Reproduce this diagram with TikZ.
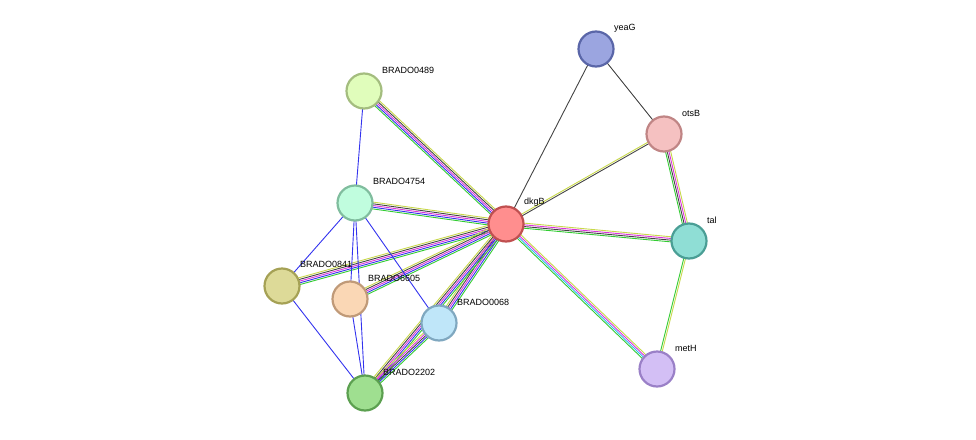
\documentclass[tikz,border=0pt]{standalone}
\usepackage{fontspec}
\setmainfont{Liberation Sans}
\usetikzlibrary{calc,backgrounds}
\definecolor{egr}{HTML}{33CC33}\definecolor{ebl}{HTML}{3333EE}\definecolor{emg}{HTML}{DD33DD}
\definecolor{edk}{HTML}{444444}\definecolor{eyl}{HTML}{C8D84A}\definecolor{ecy}{HTML}{33BBEE}
\definecolor{f1}{HTML}{FF8E8E}\definecolor{d1}{HTML}{C05050}
\definecolor{f2}{HTML}{9BA5E0}\definecolor{d2}{HTML}{5A66A8}
\definecolor{f3}{HTML}{F5C1C1}\definecolor{d3}{HTML}{C08585}
\definecolor{f4}{HTML}{8FDED5}\definecolor{d4}{HTML}{4A9E95}
\definecolor{f5}{HTML}{D3BFF5}\definecolor{d5}{HTML}{9A80C7}
\definecolor{f6}{HTML}{E0FDBB}\definecolor{d6}{HTML}{A4BD7F}
\definecolor{f7}{HTML}{C0FDDE}\definecolor{d7}{HTML}{80BD9E}
\definecolor{f8}{HTML}{DDDA98}\definecolor{d8}{HTML}{A5A155}
\definecolor{f9}{HTML}{FAD7B5}\definecolor{d9}{HTML}{C09A78}
\definecolor{f10}{HTML}{BFE6F9}\definecolor{d10}{HTML}{80A8C0}
\definecolor{f11}{HTML}{9FDF90}\definecolor{d11}{HTML}{5CA050}
\newcommand{\mline}[3]{%
 \foreach \c [count=\i] in {#3}{\xdef\nn{\i}}%
 \foreach \c [count=\i] in {#3}{%
  \pgfmathsetmacro{\off}{(\i-(\nn+1)/2)*1.7}%
  \draw[draw=\c,line width=0.9pt] ($(#1)!\off pt!90:(#2)$) -- ($(#2)!\off pt!-90:(#1)$);}}
\tikzset{prot/.style 2 args={circle,minimum size=35pt,inner sep=0pt,fill=#1,draw=#2,line width=2.2pt},
 lab/.style={anchor=west,font=\fontsize{9}{10}\selectfont,inner sep=0pt}}
\begin{document}
\begin{tikzpicture}[x=1pt,y=-1pt]
\useasboundingbox (0,0) rectangle (976,439);
\node[prot={f2}{d2}] (yeaG) at (596,49) {};
\node[prot={f3}{d3}] (otsB) at (664,134) {};
\node[prot={f1}{d1}] (dkgB) at (506,224) {};
\node[prot={f4}{d4}] (tal) at (689,241) {};
\node[prot={f5}{d5}] (metH) at (657,369) {};
\node[prot={f6}{d6}] (b0489) at (364,91) {};
\node[prot={f7}{d7}] (b4754) at (355,203) {};
\node[prot={f8}{d8}] (b0841) at (282,286) {};
\node[prot={f9}{d9}] (b6605) at (350,299) {};
\node[prot={f10}{d10}] (b0068) at (439,323) {};
\node[prot={f11}{d11}] (b2202) at (365,393) {};
\node[lab] (l1) at (614,28) {yeaG};
\node[lab] (l2) at (682,113) {otsB};
\node[lab] (l3) at (524,202) {dkgB};
\node[lab] (l4) at (707,220) {tal};
\node[lab] (l5) at (675,348) {metH};
\node[lab] (l6) at (382,70) {BRADO0489};
\node[lab] (l7) at (373,181) {BRADO4754};
\node[lab] (l8) at (300,264) {BRADO0841};
\node[lab] (l9) at (368,278) {BRADO6605};
\node[lab] (l10) at (457,302) {BRADO0068};
\node[lab] (l11) at (383,372) {BRADO2202};
\begin{scope}[on background layer]
\mline{dkgB}{yeaG}{edk}
\mline{yeaG}{otsB}{edk}
\mline{dkgB}{otsB}{edk,eyl}
\mline{otsB}{tal}{egr,edk,emg,eyl}
\mline{dkgB}{tal}{egr,edk,emg,eyl}
\mline{tal}{metH}{egr,eyl}
\mline{dkgB}{metH}{egr,ecy,emg,eyl}
\mline{b0489}{dkgB}{egr,ebl,emg,edk,eyl}
\mline{b4754}{dkgB}{egr,ebl,emg,edk,eyl}
\mline{b0841}{dkgB}{egr,ebl,emg,edk,eyl}
\mline{b6605}{dkgB}{egr,ebl,emg,edk,eyl}
\mline{b0068}{dkgB}{egr,ebl,emg,edk,eyl}
\mline{b2202}{dkgB}{egr,ebl,emg,edk,eyl}
\mline{b2202}{b0068}{egr,ebl,edk,emg,eyl}
\mline{b0489}{b4754}{ebl}
\mline{b4754}{b0841}{ebl}
\mline{b4754}{b6605}{ebl}
\mline{b4754}{b0068}{ebl}
\mline{b4754}{b2202}{ebl}
\mline{b0841}{b2202}{ebl}
\mline{b6605}{b2202}{ebl}
\end{scope}
\end{tikzpicture}
\end{document}
